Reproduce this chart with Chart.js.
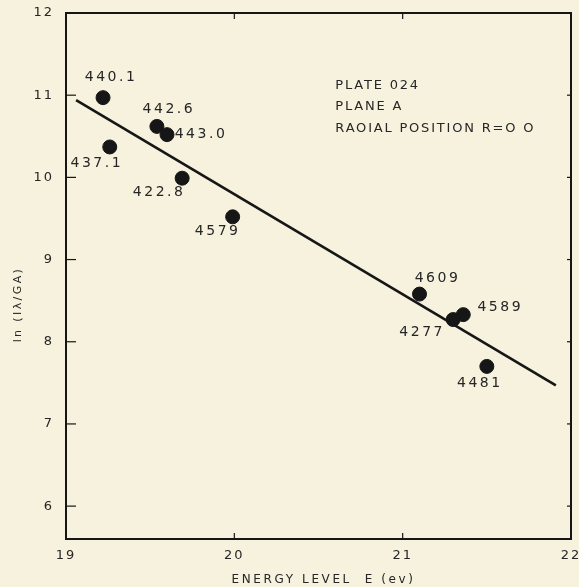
<!DOCTYPE html>
<html><head><meta charset="utf-8">
<script src="https://cdn.jsdelivr.net/npm/chart.js@4/dist/chart.umd.min.js"></script>
<style>html,body{margin:0;padding:0;background:#f6f2de;}#wrap{width:579px;height:587px;}</style>
</head><body><div id="wrap"><canvas id="c" width="579" height="587"></canvas></div>
<script>
const energy = [19.22, 19.26, 19.54, 19.60, 19.69, 19.99, 21.10, 21.36, 21.30, 21.50];
const lnValue = [10.97, 10.37, 10.62, 10.52, 9.99, 9.52, 8.58, 8.33, 8.27, 7.70];
const wavelengths = ["440.1", "437.1", "442.6", "443.0", "422.8", "4579", "4609", "4589", "4277", "4481"];
const fitX = [19.06, 21.91];
const fitY = [10.94, 7.47];
const xTicks = [19, 20, 21, 22];
const yTicks = [6, 7, 8, 9, 10, 11, 12];
const notes = ["PLATE 024", "PLANE A", "RAOIAL POSITION R=O O"];
const xTitle = "ENERGY LEVEL  E (ev)";
const yTitle = "ln (Iλ/GA)";

// label offsets (dx, dy) relative to point, in px
const labelOffsets = [[8,-20],[-13,16],[12,-17],[34,0],[-23,14],[-15,15],[18,-16],[37,-7],[-31,13],[-7,17]];

const ink = '#161616';
const txt = '#262626';
const font = '"DejaVu Sans", sans-serif';

const spacing = {
  id: 'spacing',
  beforeDraw(chart) { if (chart.ctx.letterSpacing !== undefined) chart.ctx.letterSpacing = '2px'; }
};

const decor = {
  id: 'decor',
  afterDraw(chart) {
    const {ctx, chartArea: a, scales: {x, y}} = chart;
    ctx.save();
    ctx.strokeStyle = ink; ctx.lineWidth = 2;
    ctx.strokeRect(a.left, a.top, a.right - a.left, a.bottom - a.top);
    ctx.lineWidth = 1.2;
    yTicks.forEach(v => {
      const py = y.getPixelForValue(v);
      ctx.beginPath(); ctx.moveTo(a.left, py); ctx.lineTo(a.left + 10, py); ctx.stroke();
      ctx.beginPath(); ctx.moveTo(a.right, py); ctx.lineTo(a.right - 4, py); ctx.stroke();
    });
    xTicks.forEach(v => {
      const px = x.getPixelForValue(v);
      ctx.beginPath(); ctx.moveTo(px, a.bottom); ctx.lineTo(px, a.bottom - 6); ctx.stroke();
      ctx.beginPath(); ctx.moveTo(px, a.top); ctx.lineTo(px, a.top + 6); ctx.stroke();
    });
    ctx.fillStyle = txt;
    ctx.font = '14px ' + font;
    ctx.textAlign = 'center'; ctx.textBaseline = 'middle';
    const hasLS = ctx.letterSpacing !== undefined;
    if (hasLS) ctx.letterSpacing = '2.5px';
    energy.forEach((e, i) => {
      const px = x.getPixelForValue(e) + labelOffsets[i][0];
      const py = y.getPixelForValue(lnValue[i]) + labelOffsets[i][1];
      ctx.fillText(wavelengths[i], px, py);
    });
    ctx.font = '13px ' + font;
    if (hasLS) ctx.letterSpacing = '1.8px';
    ctx.textAlign = 'left';
    const nx = x.getPixelForValue(20.6);
    notes.forEach((n, i) => {
      ctx.fillText(n, nx, y.getPixelForValue(11.12) + i * 21.5);
    });
    // axis titles
    ctx.font = '12px ' + font;
    if (hasLS) ctx.letterSpacing = '2.6px';
    ctx.textAlign = 'center';
    ctx.fillText(xTitle, x.getPixelForValue(20.53), a.bottom + 41);
    ctx.font = '11px ' + font;
    if (hasLS) ctx.letterSpacing = '2.4px';
    ctx.translate(18, y.getPixelForValue(9.0) + 45);
    ctx.rotate(-Math.PI / 2);
    ctx.fillText(yTitle, 0, 0);
    ctx.restore();
  }
};

new Chart(document.getElementById('c'), {
  type: 'scatter',
  data: {
    datasets: [
      {
        data: energy.map((e, i) => ({x: e, y: lnValue[i]})),
        backgroundColor: ink, borderColor: ink, pointRadius: 7, pointHoverRadius: 7
      },
      {
        type: 'line',
        data: fitX.map((e, i) => ({x: e, y: fitY[i]})),
        borderColor: ink, borderWidth: 2.6, pointRadius: 0, fill: false, showLine: true
      }
    ]
  },
  options: {
    responsive: false, animation: false,
    devicePixelRatio: 1,
    layout: {padding: {top: 13, right: 8, left: 0, bottom: 0}},
    plugins: {legend: {display: false}, tooltip: {enabled: false}},
    scales: {
      x: {
        type: 'linear', min: 19, max: 22,
        afterBuildTicks(s) { s.ticks = xTicks.map(v => ({value: v})); },
        afterFit(s) { s.height = 48; s.paddingLeft = 0; s.paddingRight = 0; },
        grid: {display: false, drawTicks: false},
        border: {display: false},
        ticks: {color: txt, font: {family: font, size: 13}, padding: 9, maxRotation: 0},
        title: {display: false}
      },
      y: {
        type: 'linear', min: 5.6, max: 12,
        afterBuildTicks(s) { s.ticks = yTicks.map(v => ({value: v})); },
        afterFit(s) { s.width = 66; s.paddingTop = 0; s.paddingBottom = 0; },
        grid: {display: false, drawTicks: false},
        border: {display: false},
        ticks: {color: txt, font: {family: font, size: 13}, padding: 12},
        title: {display: false}
      }
    }
  },
  plugins: [spacing, decor]
});
</script></body></html>
